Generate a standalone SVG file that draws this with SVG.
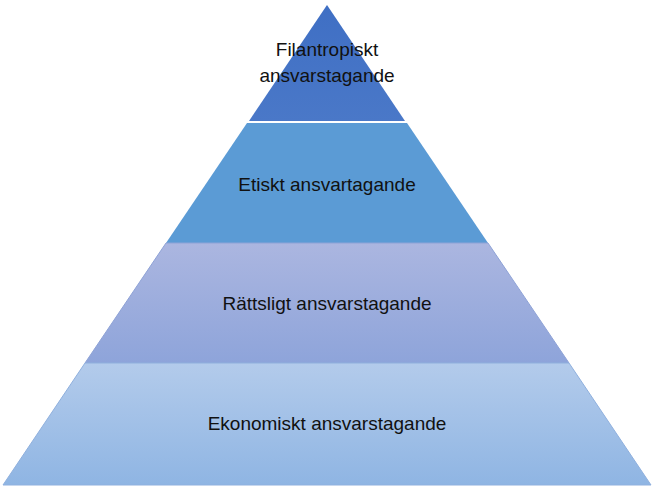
<svg xmlns="http://www.w3.org/2000/svg" width="654" height="487" viewBox="0 0 654 487">
<defs>
<linearGradient id="g1" x1="0" y1="0" x2="0" y2="1"><stop offset="0" stop-color="#3f6fc4"/><stop offset="1" stop-color="#4a78c8"/></linearGradient>
<linearGradient id="g3" x1="0" y1="0" x2="0" y2="1"><stop offset="0" stop-color="#abb6e0"/><stop offset="1" stop-color="#8ea4da"/></linearGradient>
<linearGradient id="g4" x1="0" y1="0" x2="0" y2="1"><stop offset="0" stop-color="#b3cbeb"/><stop offset="1" stop-color="#8fb5e3"/></linearGradient>
</defs>
<style>
text{font-family:"Liberation Sans",Arial,sans-serif;font-size:19px;fill:#111;text-anchor:middle}
</style>
<rect width="654" height="487" fill="#fff"/>
<g id="tier1"><polygon points="327,5 405,121 249,121" fill="url(#g1)"/>
<text x="327" y="56">Filantropiskt</text><text x="327" y="82">ansvarstagande</text></g>
<g id="tier2"><polygon points="247,123 407,123 488,243 166,243" fill="#5b9bd5"/>
<text x="327" y="191">Etiskt ansvartagande</text></g>
<g id="tier3"><polygon points="166,243 488,243 569,363 85,363" fill="url(#g3)" stroke="#8ea2d6" stroke-width="1"/>
<text x="327" y="310">Rättsligt ansvarstagande</text></g>
<g id="tier4"><polygon points="85,363 569,363 651,485 3,485" fill="url(#g4)" stroke="#8fb0de" stroke-width="1"/>
<text x="327" y="430">Ekonomiskt ansvarstagande</text></g>
</svg>
